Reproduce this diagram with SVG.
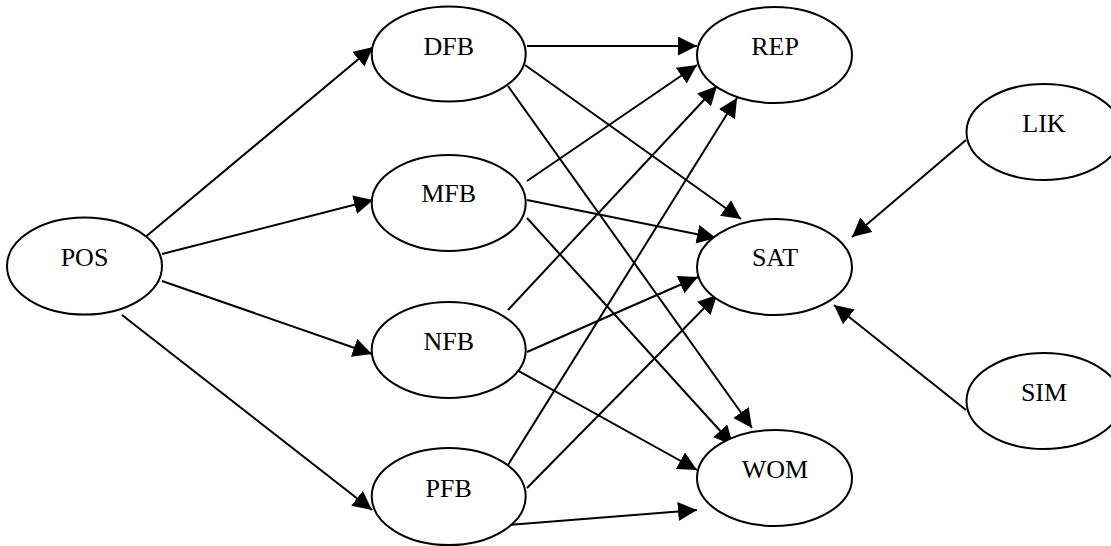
<svg xmlns="http://www.w3.org/2000/svg" width="1111" height="546" viewBox="0 0 1111 546">
  <defs>
    <!-- filled triangular arrowhead shared by all connectors -->
    <marker id="arrow" markerUnits="userSpaceOnUse" markerWidth="20" markerHeight="20" refX="19" refY="9.5" orient="auto">
      <path d="M0,0 L19,9.5 L0,19 z" fill="#000"/>
    </marker>
    <style>
      .node ellipse { fill: #fff; stroke: #000; stroke-width: 2; }
      .node text { font-family: "Liberation Serif", "Times New Roman", serif; font-size: 26px; text-anchor: middle; fill: #000; }
      #connectors line { stroke: #000; stroke-width: 2; marker-end: url(#arrow); }
    </style>
  </defs>
  <rect width="1111" height="546" fill="#fff"/>

  <g id="connectors">
    <line x1="143" y1="239" x2="373" y2="47"/>
    <line x1="162" y1="254" x2="373" y2="200"/>
    <line x1="162" y1="281" x2="372" y2="354"/>
    <line x1="122" y1="315" x2="372" y2="510"/>
    <line x1="527" y1="46" x2="697" y2="46"/>
    <line x1="525" y1="65" x2="741" y2="219"/>
    <line x1="508" y1="86" x2="752" y2="428"/>
    <line x1="527" y1="181" x2="697" y2="65"/>
    <line x1="527" y1="200" x2="716" y2="238"/>
    <line x1="527" y1="218" x2="733" y2="445"/>
    <line x1="508" y1="310" x2="717" y2="86"/>
    <line x1="527" y1="352" x2="698" y2="277"/>
    <line x1="508" y1="365" x2="697" y2="470"/>
    <line x1="508" y1="465" x2="737" y2="98"/>
    <line x1="527" y1="488" x2="717" y2="295"/>
    <line x1="508" y1="525" x2="697" y2="510"/>
    <line x1="966" y1="140" x2="852" y2="237"/>
    <line x1="966" y1="410" x2="834" y2="305"/>
  </g>

  <g id="POS" class="node"><ellipse cx="84.5" cy="266" rx="77.5" ry="48.5"/><text x="84.5" y="266">POS</text></g>
  <g id="DFB" class="node"><ellipse cx="448.7" cy="54" rx="77" ry="47.5"/><text x="448.7" y="55">DFB</text></g>
  <g id="MFB" class="node"><ellipse cx="448.7" cy="203" rx="77" ry="48"/><text x="448.7" y="202">MFB</text></g>
  <g id="NFB" class="node"><ellipse cx="448.7" cy="350" rx="77" ry="48"/><text x="448.7" y="350">NFB</text></g>
  <g id="PFB" class="node"><ellipse cx="448.7" cy="496.5" rx="77" ry="48.5"/><text x="448.7" y="497">PFB</text></g>
  <g id="REP" class="node"><ellipse cx="774.5" cy="55" rx="77.5" ry="48"/><text x="775" y="55">REP</text></g>
  <g id="SAT" class="node"><ellipse cx="774.5" cy="267" rx="77.5" ry="48"/><text x="775" y="266">SAT</text></g>
  <g id="WOM" class="node"><ellipse cx="774.5" cy="478" rx="77.5" ry="48"/><text x="775" y="478">WOM</text></g>
  <g id="LIK" class="node"><ellipse cx="1044" cy="132" rx="77.5" ry="48"/><text x="1044" y="132">LIK</text></g>
  <g id="SIM" class="node"><ellipse cx="1044" cy="401" rx="77.5" ry="48"/><text x="1044" y="401">SIM</text></g>
</svg>
